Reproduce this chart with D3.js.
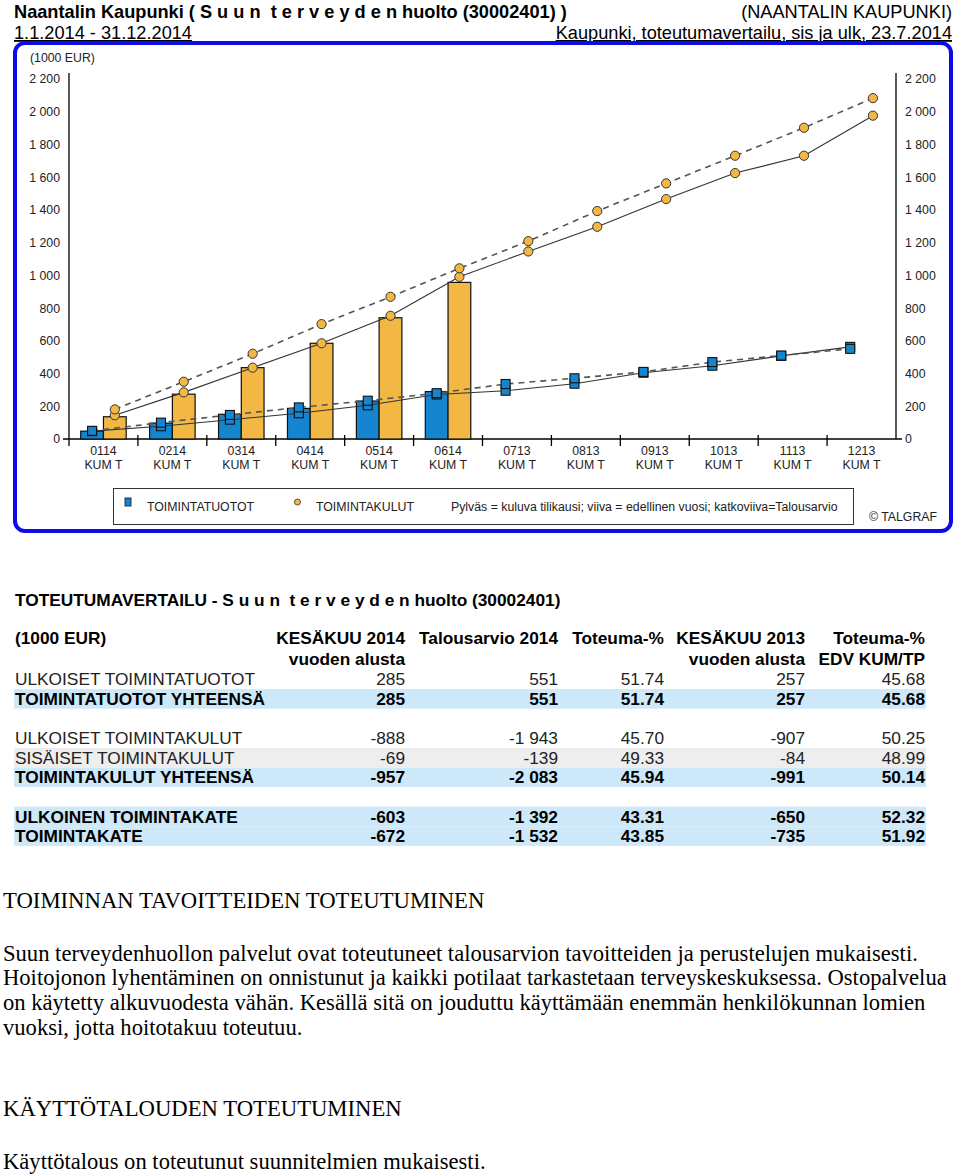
<!DOCTYPE html>
<html><head><meta charset="utf-8">
<script src="https://cdn.jsdelivr.net/npm/d3@7/dist/d3.min.js"></script>
<style>
body{margin:0;background:#fff;}
svg text{white-space:pre;}
</style></head>
<body><svg id="c" width="960" height="1174"></svg>
<script>
// ---------- DATA ----------
const categories = ["0114","0214","0314","0414","0514","0614","0713","0813","0913","1013","1113","1213"];
const categorySub = "KUM T";
const tuototCurrent = [48, 97, 151, 187, 232, 290];
const kulutCurrent  = [136, 274, 436, 585, 741, 957];
const tuototPrev    = [48, 78, 118, 157, 206, 272, 295, 338, 405, 448, 508, 563];
const tuototBudget  = [50, 100, 147, 193, 234, 280, 336, 371, 410, 470, 510, 551];
const kulutPrev     = [145, 285, 436, 585, 753, 991, 1146, 1297, 1466, 1625, 1731, 1976];
const kulutBudget   = [181, 350, 521, 702, 869, 1043, 1209, 1393, 1562, 1731, 1902, 2083];
const yTicks = [0,200,400,600,800,1000,1200,1400,1600,1800,2000,2200];

const tableHeaders = [["KESÄKUU 2014","vuoden alusta"],["Talousarvio 2014",""],["Toteuma-%",""],["KESÄKUU 2013","vuoden alusta"],["Toteuma-%","EDV KUM/TP"]];
const rowLabels = ["ULKOISET TOIMINTATUOTOT","TOIMINTATUOTOT YHTEENSÄ","","ULKOISET TOIMINTAKULUT","SISÄISET TOIMINTAKULUT","TOIMINTAKULUT YHTEENSÄ","","ULKOINEN TOIMINTAKATE","TOIMINTAKATE"];
const rowValues = [
  ["285","551","51.74","257","45.68"],
  ["285","551","51.74","257","45.68"],
  null,
  ["-888","-1 943","45.70","-907","50.25"],
  ["-69","-139","49.33","-84","48.99"],
  ["-957","-2 083","45.94","-991","50.14"],
  null,
  ["-603","-1 392","43.31","-650","52.32"],
  ["-672","-1 532","43.85","-735","51.92"]
];
const rowStyle = ["plain","total","","plain","gray","total","","total","total"];

const bodyLines1 = [
 "Suun terveydenhuollon palvelut ovat toteutuneet talousarvion tavoitteiden ja perustelujen mukaisesti.",
 "Hoitojonon lyhentäminen on onnistunut ja kaikki potilaat tarkastetaan terveyskeskuksessa. Ostopalvelua",
 "on käytetty alkuvuodesta vähän. Kesällä sitä on jouduttu käyttämään enemmän henkilökunnan lomien",
 "vuoksi, jotta hoitotakuu toteutuu."
];

// ---------- DRAW ----------
const svg = d3.select("#c");
const SANS = "Arial, 'Liberation Sans', sans-serif";
const SERIF = "'Times New Roman', 'Liberation Serif', serif";
const BLUE = "#1585d0", ORANGE = "#f2b843", FRAME = "#0b0bec";
const CF = 12.3; // chart font size
const TF = 17.3; // table font size
const SF = 22.6; // serif body size

// Header texts
svg.append("text").attr("x",14).attr("y",18).attr("font-family",SANS).attr("font-size",18.2).attr("font-weight","bold")
  .text("Naantalin Kaupunki ( S u u n  t e r v e y d e n huolto (30002401) )");
svg.append("text").attr("x",14).attr("y",39).attr("font-family",SANS).attr("font-size",18.2)
  .attr("text-decoration","underline").text("1.1.2014 - 31.12.2014");
svg.append("text").attr("x",952).attr("y",18).attr("text-anchor","end").attr("font-family",SANS).attr("font-size",18.2)
  .text("(NAANTALIN KAUPUNKI)");
svg.append("text").attr("x",952).attr("y",39).attr("text-anchor","end").attr("font-family",SANS).attr("font-size",18.2)
  .attr("text-decoration","underline").text("Kaupunki, toteutumavertailu, sis ja ulk, 23.7.2014");

// Frame
svg.append("rect").attr("x",15).attr("y",43).attr("width",936).attr("height",488).attr("rx",10)
  .attr("fill","none").attr("stroke",FRAME).attr("stroke-width",4);

// Scales
const x = d3.scaleBand().domain(categories).range([69,896]).padding(0);
const y = d3.scaleLinear().domain([0,2200]).range([439,79]);
const bw = x.bandwidth()*0.33;
const cx = c => x(c)+x.bandwidth()/2;
const fmt = v => d3.format(",")(v).replace(/,/g," ");

svg.append("text").attr("x",30).attr("y",62).attr("font-family",SANS).attr("font-size",CF).attr("fill","#222").text("(1000 EUR)");

// Y axes
const yl = svg.append("g").attr("transform","translate(69,0)")
  .call(d3.axisLeft(y).tickValues(yTicks).tickFormat(fmt).tickSize(0).tickPadding(9));
const yr = svg.append("g").attr("transform","translate(896,0)")
  .call(d3.axisRight(y).tickValues(yTicks).tickFormat(fmt).tickSize(0).tickPadding(9));
[yl,yr].forEach(g=>{
  g.select(".domain").attr("d", `M0,${y(0)}V73`).attr("stroke","#000").attr("stroke-width",1.3);
  g.selectAll("text").attr("font-family",SANS).attr("font-size",CF).attr("fill","#222");
});

// X axis
const xa = svg.append("g").attr("transform",`translate(0,${y(0)})`)
  .call(d3.axisBottom(x).tickSize(0).tickFormat(""));
xa.select(".domain").attr("d","M63,0H902").attr("stroke","#000").attr("stroke-width",1.3);
xa.selectAll(".tick").remove();
svg.append("g").selectAll("line").data(categories.slice(1)).join("line")
  .attr("x1",d=>x(d)).attr("x2",d=>x(d)).attr("y1",y(0)-4).attr("y2",y(0)+7)
  .attr("stroke","#000").attr("stroke-width",1.3);
svg.append("line").attr("x1",69).attr("x2",69).attr("y1",y(0)).attr("y2",y(0)+7).attr("stroke","#000").attr("stroke-width",1.3);
const xl = svg.append("g").selectAll("text").data(categories).join("text")
  .attr("x",d=>cx(d)).attr("y",455).attr("text-anchor","middle").attr("font-family",SANS).attr("font-size",CF).attr("fill","#222");
xl.append("tspan").attr("x",d=>cx(d)).attr("dy",0).text(d=>d);
xl.append("tspan").attr("x",d=>cx(d)).attr("dy",14).text(categorySub);

// Bars
svg.append("g").selectAll("rect").data(tuototCurrent).join("rect")
  .attr("x",(d,i)=>cx(categories[i])-bw).attr("y",d=>y(d)).attr("width",bw).attr("height",d=>y(0)-y(d))
  .attr("fill",BLUE).attr("stroke","#111").attr("stroke-width",1.2);
svg.append("g").selectAll("rect").data(kulutCurrent).join("rect")
  .attr("x",(d,i)=>cx(categories[i])).attr("y",d=>y(d)).attr("width",bw).attr("height",d=>y(0)-y(d))
  .attr("fill",ORANGE).attr("stroke","#111").attr("stroke-width",1.2);

// Lines
function drawLine(vals, off, dashed){
  const line = d3.line().x((d,i)=>cx(categories[i])+off).y(d=>y(d));
  svg.append("path").datum(vals).attr("d",line).attr("fill","none")
    .attr("stroke",dashed?"#555":"#333").attr("stroke-width",dashed?1.6:1.1)
    .attr("stroke-dasharray",dashed?"6,5":null);
}
drawLine(tuototPrev,-bw/2,false);
drawLine(tuototBudget,-bw/2,true);
drawLine(kulutPrev,bw/2,false);
drawLine(kulutBudget,bw/2,true);

// Markers
[tuototPrev,tuototBudget].forEach(vals=>{
  svg.append("g").selectAll("rect").data(vals).join("rect")
    .attr("x",(d,i)=>cx(categories[i])-bw/2-4.5).attr("y",d=>y(d)-4.5).attr("width",9).attr("height",9)
    .attr("fill",BLUE).attr("stroke","#111").attr("stroke-width",1.1);
});
[kulutPrev,kulutBudget].forEach(vals=>{
  svg.append("g").selectAll("circle").data(vals).join("circle")
    .attr("cx",(d,i)=>cx(categories[i])+bw/2).attr("cy",d=>y(d)).attr("r",4.6)
    .attr("fill",ORANGE).attr("stroke","#333").attr("stroke-width",1);
});

// Legend
const lg = svg.append("g");
lg.append("rect").attr("x",113.5).attr("y",488.5).attr("width",740).attr("height",36).attr("fill","#fff").attr("stroke","#333").attr("stroke-width",1);
lg.append("rect").attr("x",125).attr("y",498).attr("width",6).attr("height",8).attr("fill",BLUE).attr("stroke","#111").attr("stroke-width",0.8);
lg.append("text").attr("x",147).attr("y",511).attr("font-family",SANS).attr("font-size",CF).attr("fill","#222").text("TOIMINTATUOTOT");
lg.append("circle").attr("cx",297.5).attr("cy",502).attr("r",3).attr("fill",ORANGE).attr("stroke","#333").attr("stroke-width",0.8);
lg.append("text").attr("x",316).attr("y",511).attr("font-family",SANS).attr("font-size",CF).attr("fill","#222").text("TOIMINTAKULUT");
lg.append("text").attr("x",451).attr("y",511).attr("font-family",SANS).attr("font-size",CF).attr("fill","#222")
  .text("Pylväs = kuluva tilikausi; viiva = edellinen vuosi; katkoviiva=Talousarvio");
svg.append("text").attr("x",937).attr("y",521).attr("text-anchor","end").attr("font-family",SANS).attr("font-size",CF).attr("fill","#222").text("© TALGRAF");

// ---------- TABLE ----------
const colRight = [405,558,664,805,925];
svg.append("text").attr("x",15).attr("y",606).attr("font-family",SANS).attr("font-size",TF).attr("font-weight","bold")
  .text("TOTEUTUMAVERTAILU - S u u n  t e r v e y d e n huolto (30002401)");
svg.append("text").attr("x",15).attr("y",644).attr("font-family",SANS).attr("font-size",TF).attr("font-weight","bold").text("(1000 EUR)");
tableHeaders.forEach((h,j)=>{
  svg.append("text").attr("x",colRight[j]).attr("y",644).attr("text-anchor","end").attr("font-family",SANS).attr("font-size",TF).attr("font-weight","bold").text(h[0]);
  if(h[1]) svg.append("text").attr("x",colRight[j]).attr("y",665).attr("text-anchor","end").attr("font-family",SANS).attr("font-size",TF).attr("font-weight","bold").text(h[1]);
});
const rowTop = 669.5, rowH = 19.6;
rowLabels.forEach((lab,i)=>{
  const top = rowTop + i*rowH;
  const st = rowStyle[i];
  if(st==="total") svg.append("rect").attr("x",14).attr("y",top).attr("width",912).attr("height",rowH).attr("fill","#cde9f9");
  if(st==="gray") svg.append("rect").attr("x",14).attr("y",top).attr("width",912).attr("height",rowH).attr("fill","#eeeeee");
  if(!lab) return;
  const bold = st==="total";
  const col = bold ? "#000" : "#222";
  svg.append("text").attr("x",15).attr("y",top+15.8).attr("font-family",SANS).attr("font-size",TF).attr("font-weight",bold?"bold":"normal").attr("fill",col).text(lab);
  rowValues[i].forEach((v,j)=>{
    svg.append("text").attr("x",colRight[j]).attr("y",top+15.8).attr("text-anchor","end").attr("font-family",SANS).attr("font-size",TF).attr("font-weight",bold?"bold":"normal").attr("fill",col).text(v);
  });
});
// ---------- BODY TEXT ----------
svg.append("text").attr("x",3).attr("y",907.5).attr("font-family",SERIF).attr("font-size",22.7).text("TOIMINNAN TAVOITTEIDEN TOTEUTUMINEN");
bodyLines1.forEach((t,i)=>{
  svg.append("text").attr("x",3).attr("y",960.5+i*24.8).attr("font-family",SERIF).attr("font-size",SF).text(t);
});
svg.append("text").attr("x",3).attr("y",1115.5).attr("font-family",SERIF).attr("font-size",22.7).text("KÄYTTÖTALOUDEN TOTEUTUMINEN");
svg.append("text").attr("x",3).attr("y",1168.5).attr("font-family",SERIF).attr("font-size",SF).text("Käyttötalous on toteutunut suunnitelmien mukaisesti.");
</script>
</body></html>
